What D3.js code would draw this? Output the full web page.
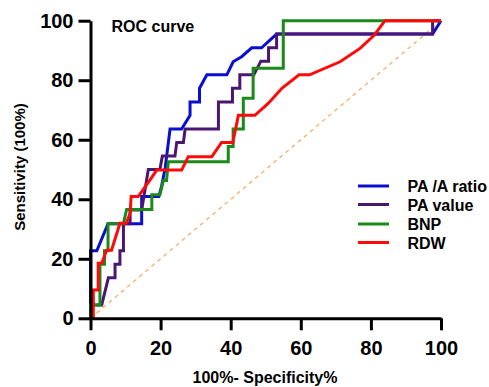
<!DOCTYPE html>
<meta charset="utf-8">
<style>
body { margin: 0; background: #fff; }
text { font-family: Arial, "Liberation Sans", sans-serif; font-weight: bold; }
.axis path, .axis line { stroke: #000; stroke-width: 3; fill: none; }
.axis text { font-size: 20px; fill: #000; }
.roc { fill: none; stroke-width: 3; stroke-linejoin: miter; }
</style>
<body>
<div id="chart"></div>
<script src="https://d3js.org/d3.v7.min.js"></script>
<script>
// ROC points: [100% - specificity, sensitivity]
var paRatio = [[0,0],[0,22.7],[1.8,22.7],[5.0,31.8],[14.6,31.8],[14.6,40.9],[19.5,40.9],[20.3,44.5],
  [21.3,50.5],[22.7,63.6],[26.0,63.6],[28.4,68.2],[28.4,72.7],[31.1,72.7],[31.1,77.3],[33.2,81.8],
  [38.9,81.8],[40.7,86.2],[43.1,87.9],[46.0,90.9],[48.8,90.9],[53.1,95.5],[97.6,95.5],[100,100]];
var paValue = [[0,0],[0,4.5],[3.2,4.5],[5.1,13.6],[7.0,13.6],[7.0,18.2],[8.4,18.2],[8.4,22.7],
  [9.4,22.7],[9.4,31.8],[11.3,31.8],[11.3,36.4],[14.6,36.4],[16.5,50],[19.8,50],[20.5,54.5],
  [24.1,54.5],[24.6,59.1],[26.5,59.1],[27.0,63.6],[36.5,63.6],[36.5,72.7],[40.5,72.7],[40.5,77.3],
  [42.6,77.3],[42.6,81.8],[46.6,81.8],[48.6,86.4],[50.8,86.4],[50.8,90.9],[53.1,90.9],[53.1,95.5],
  [97.6,95.5],[97.6,100],[100,100]];
var bnp = [[0,0],[0,4.5],[2.7,4.5],[2.7,18.2],[4.0,18.2],[4.0,22.7],[5.0,22.7],[5.0,31.8],[9.4,31.8],
  [10.3,36.6],[17.5,36.6],[17.5,41.5],[19.8,41.5],[20.8,46.3],[21.7,46.3],[22.2,52.6],[39.3,52.6],
  [39.3,57.7],[40.7,57.7],[40.7,63.6],[43.6,63.6],[43.6,73.9],[46.4,73.9],[46.4,84.0],[55.0,84.0],
  [55.0,100],[100,100]];
var rdw = [[0,0],[0.8,0],[0.8,9.5],[2.2,9.5],[2.2,18.5],[3.2,18.5],[4.6,22.9],[6.0,22.9],[8.4,31.9],
  [10.2,31.9],[11.3,35.3],[11.6,40.9],[13.6,40.9],[17.0,46.5],[18.9,49.8],[26.0,49.8],[27.9,54.3],
  [34.6,54.3],[37.4,59.1],[40.6,59.1],[42.2,68.2],[46.9,68.2],[50.7,72.2],[54.6,77.3],[59.5,81.8],
  [62.5,81.8],[71.2,86.2],[76.9,90.7],[81.0,95.2],[84.0,100],[100,100]];

var seriesNames = ["PA /A ratio", "PA value", "BNP", "RDW"];
var seriesData = [paRatio, paValue, bnp, rdw];
var seriesColors = ["#0a0fcf", "#4b1670", "#1a8a1a", "#ff0a0a"];
var ticks = [0, 20, 40, 60, 80, 100];

var W = 489, H = 387;
var svg = d3.select("#chart").append("svg").attr("width", W).attr("height", H);

var x = d3.scaleLinear().domain([0, 100]).range([90.5, 441]);
var y = d3.scaleLinear().domain([0, 100]).range([318.3, 20.7]);

// reference diagonal
svg.append("line")
  .attr("x1", x(0)).attr("y1", y(0)).attr("x2", x(100)).attr("y2", y(100))
  .attr("stroke", "#f7b77a").attr("stroke-width", 1.5).attr("stroke-dasharray", "4,4");

var line = d3.line().x(function(d) { return x(d[0]); }).y(function(d) { return y(d[1]); });

seriesData.forEach(function(s, i) {
  svg.append("path").datum(s).attr("class", "roc")
    .attr("stroke", seriesColors[i]).attr("d", line);
});

svg.append("g").attr("class", "axis")
  .attr("transform", "translate(0," + y(0) + ")")
  .call(d3.axisBottom(x).tickValues(ticks).tickSize(12).tickSizeOuter(0).tickPadding(11));
svg.append("g").attr("class", "axis")
  .attr("transform", "translate(" + x(0) + ",0)")
  .call(d3.axisLeft(y).tickValues(ticks).tickSize(12).tickSizeOuter(0).tickPadding(5));

svg.append("text").attr("x", 111.5).attr("y", 31.5)
  .style("font-size", "16px").text("ROC curve");

svg.append("text").attr("x", 265).attr("y", 383).attr("text-anchor", "middle")
  .style("font-size", "16px").text("100%- Specificity%");

svg.append("text").attr("transform", "translate(25,167) rotate(-90)")
  .attr("text-anchor", "middle").style("font-size", "15px").text("Sensitivity (100%)");

// legend
var legY = [186, 204.5, 224, 242.5];
seriesNames.forEach(function(n, i) {
  svg.append("line").attr("x1", 358).attr("x2", 389).attr("y1", legY[i]).attr("y2", legY[i])
    .attr("stroke", seriesColors[i]).attr("stroke-width", 3);
  svg.append("text").attr("x", 407.5).attr("y", legY[i] + 6)
    .style("font-size", "16px").text(n);
});
</script>
</body>
